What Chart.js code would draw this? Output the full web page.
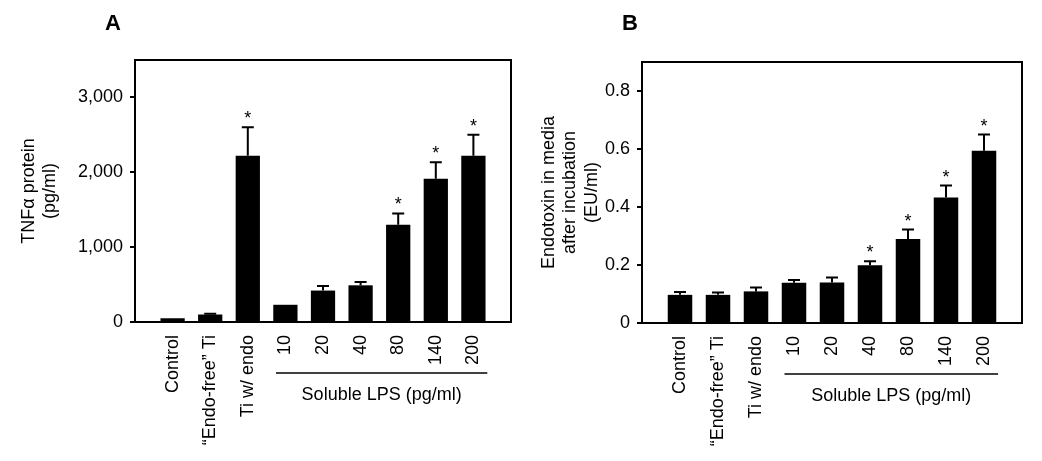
<!DOCTYPE html>
<html>
<head>
<meta charset="utf-8">
<script src="https://cdn.jsdelivr.net/npm/chart.js@4.4.1/dist/chart.umd.min.js"></script>
<style>
  html, body { margin: 0; padding: 0; background: #fff; }
  #wrap { position: relative; width: 1042px; height: 461px; }
  canvas { position: absolute; top: 0; }
</style>
</head>
<body>
<div id="wrap">
  <canvas id="chartA" width="520" height="461" style="left:0"></canvas>
  <canvas id="chartB" width="522" height="461" style="left:520px"></canvas>
</div>
<script>
// categories shared by both panels
var categories = ['Control', '\u201CEndo-free\u201D Ti', 'Ti w/ endo', '10', '20', '40', '80', '140', '200'];
var lpsLabel = 'Soluble LPS (pg/ml)';
var lpsFirst = 3, lpsLast = 8;

// Panel A - TNF alpha
var tnfValues = [50, 100, 2220, 230, 420, 490, 1300, 1915, 2220];
var tnfErrors = [0, 10, 380, 0, 60, 45, 150, 220, 280];
var tnfSig = [false, false, true, false, false, false, true, true, true];
var tnfTicks = [0, 1000, 2000, 3000];

// Panel B - endotoxin in media
var endoValues = [0.097, 0.097, 0.109, 0.139, 0.140, 0.199, 0.290, 0.433, 0.594];
var endoErrors = [0.010, 0.008, 0.013, 0.009, 0.017, 0.014, 0.032, 0.041, 0.056];
var endoSig = [false, false, false, false, false, true, true, true, true];
var endoTicks = [0, 0.2, 0.4, 0.6, 0.8];

var FONT = '"Liberation Sans", Arial, sans-serif';

// error bars, asterisks, frame, LPS bracket and panel letter
var extrasPlugin = {
    id: 'extras',
    afterDatasetsDraw: function (chart, args, opts) {
        var ctx = chart.ctx;
        var ys = chart.scales.y;
        var meta = chart.getDatasetMeta(0);
        ctx.save();
        ctx.strokeStyle = '#000';
        ctx.fillStyle = '#000';
        ctx.lineWidth = 2;
        ctx.font = '18px ' + FONT;
        ctx.textAlign = 'center';
        ctx.textBaseline = 'alphabetic';
        meta.data.forEach(function (bar, i) {
            var top = ys.getPixelForValue(opts.values[i] + opts.errors[i]);
            if (opts.errors[i] > 0) {
                ctx.beginPath();
                ctx.moveTo(bar.x, bar.y);
                ctx.lineTo(bar.x, top);
                ctx.moveTo(bar.x - 6, top);
                ctx.lineTo(bar.x + 6, top);
                ctx.stroke();
            }
            if (opts.sig[i]) {
                ctx.fillText('*', bar.x, top - 3);
            }
        });
        ctx.restore();
    },
    afterDraw: function (chart, args, opts) {
        var ctx = chart.ctx;
        var area = chart.chartArea;
        var xs = chart.scales.x;
        ctx.save();
        ctx.strokeStyle = '#000';
        ctx.fillStyle = '#000';
        ctx.lineWidth = 2;
        ctx.strokeRect(area.left, area.top, area.right - area.left, area.bottom - area.top);

        var x1 = xs.getPixelForValue(lpsFirst - 0.25);
        var x2 = xs.getPixelForValue(lpsLast + 0.37);
        var yLine = area.bottom + 51;
        ctx.lineWidth = 1.5;
        ctx.beginPath();
        ctx.moveTo(x1, yLine);
        ctx.lineTo(x2, yLine);
        ctx.stroke();
        ctx.font = '18px ' + FONT;
        ctx.textAlign = 'center';
        ctx.textBaseline = 'middle';
        ctx.fillText(lpsLabel, (x1 + x2) / 2, yLine + 22);

        ctx.font = 'bold 22px ' + FONT;
        ctx.fillText(opts.letter, opts.letterX, 24);
        ctx.restore();
    }
};

function makeChart(id, values, errors, sig, ticks, yMax, title, tickFmt, pad, yWidth, xHeight, letter, letterX) {
    var ctx = document.getElementById(id).getContext('2d');
    return new Chart(ctx, {
        type: 'bar',
        data: {
            datasets: [{
                data: categories.map(function (c, i) { return { x: i, y: values[i] }; }),
                backgroundColor: '#000',
                borderWidth: 0,
                barPercentage: 0.645,
                categoryPercentage: 1
            }]
        },
        options: {
            responsive: false,
            animation: false,
            layout: { padding: pad },
            plugins: {
                legend: { display: false },
                tooltip: { enabled: false },
                extras: { values: values, errors: errors, sig: sig, letter: letter, letterX: letterX }
            },
            scales: {
                x: {
                    type: 'linear',
                    offset: false,
                    min: -1,
                    max: 9,
                    afterBuildTicks: function (axis) {
                        axis.ticks = categories.map(function (c, i) { return { value: i }; });
                    },
                    afterFit: function (axis) { axis.height = xHeight; },
                    ticks: {
                        autoSkip: false,
                        minRotation: 90,
                        maxRotation: 90,
                        padding: 13,
                        color: '#000',
                        font: { family: FONT, size: 18 },
                        callback: function (v) { return categories[v]; }
                    },
                    grid: { display: false, drawTicks: false, offset: false },
                    border: { display: false }
                },
                y: {
                    min: 0,
                    max: yMax,
                    afterBuildTicks: function (axis) {
                        axis.ticks = ticks.map(function (v) { return { value: v }; });
                    },
                    afterFit: function (axis) { axis.width = yWidth; },
                    ticks: {
                        padding: 7,
                        color: '#000',
                        font: { family: FONT, size: 18 },
                        callback: tickFmt
                    },
                    grid: { drawOnChartArea: false, drawTicks: true, tickLength: 5, color: '#000', lineWidth: 2 },
                    border: { display: false },
                    title: {
                        display: true,
                        text: title,
                        color: '#000',
                        font: { family: FONT, size: 18 },
                        padding: { top: 18, bottom: 0 }
                    }
                }
            }
        },
        plugins: [extrasPlugin]
    });
}

document.addEventListener('DOMContentLoaded', function () {
    // Panel A
    makeChart('chartA', tnfValues, tnfErrors, tnfSig, tnfTicks, 3500,
        ['TNF\u03B1 protein', '(pg/ml)'],
        function (v) { return v.toLocaleString('en-US'); },
        { left: 0, right: 9, top: 60, bottom: 0 }, 135, 139, 'A', 113);

    // Panel B
    makeChart('chartB', endoValues, endoErrors, endoSig, endoTicks, 0.9,
        ['Endotoxin in media', 'after incubation', '(EU/ml)'],
        function (v) { return String(v); },
        { left: 0, right: 20, top: 62, bottom: 0 }, 122, 138, 'B', 110);
});
</script>
</body>
</html>
